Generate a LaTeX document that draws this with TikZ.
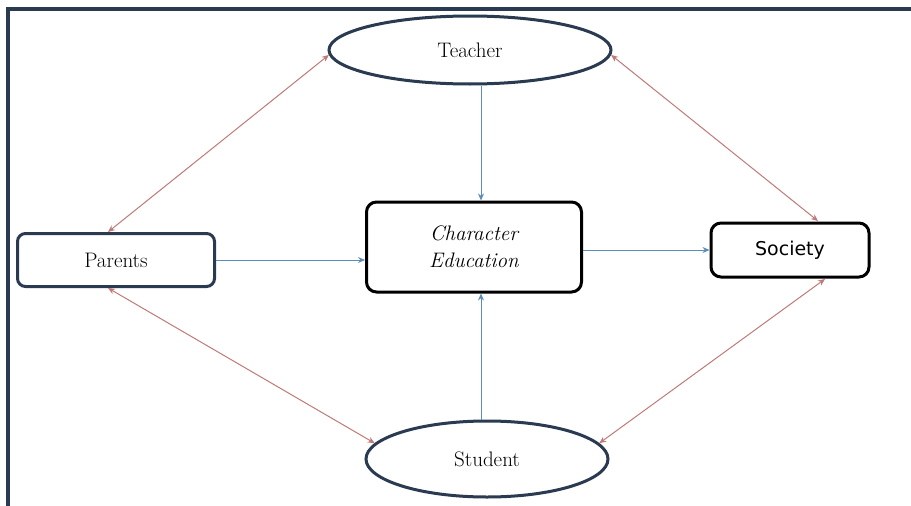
\documentclass[tikz,border=0pt]{standalone}
\usetikzlibrary{shapes.geometric,arrows.meta}
\usepackage{fontspec}
\newfontfamily\sansfam{DejaVu Sans}
\definecolor{navy}{HTML}{2A3A50}
\definecolor{bluearr}{HTML}{5B8DB8}
\definecolor{redarr}{HTML}{C07A78}
\begin{document}
\begin{tikzpicture}[x=1pt,y=-1pt,
  txt/.style={font=\fontsize{21}{25}\selectfont},
  ell/.style={ellipse,draw=navy,line width=3pt,fill=white,txt},
  rbox/.style={rounded corners=8pt,draw=navy,line width=3pt,fill=white,txt},
  bbox/.style={rounded corners=10pt,draw=black,line width=3pt,fill=white,txt},
  barr/.style={draw=bluearr,line width=1pt,-{Stealth[length=7pt,width=6pt]}},
  rarr/.style={draw=redarr,line width=1pt,{Stealth[length=7pt,width=6pt]}-{Stealth[length=7pt,width=6pt]}}]
\useasboundingbox (0,0) rectangle (911,506);
\fill[white] (0,0) rectangle (911,506);
\draw[navy,line width=4pt] (8,506) -- (8,9) -- (911,9);
\node[ell,minimum width=282pt,minimum height=68pt,inner sep=0pt] (teacher) at (470,50) {Teacher};
\node[rbox,minimum width=197pt,minimum height=53pt,inner sep=0pt] (parents) at (116,260) {Parents};
\node[bbox,minimum width=215pt,minimum height=90pt,inner sep=0pt,align=center,font=\fontsize{21}{27}\selectfont\itshape] (ce) at (474,247) {Character\\Education};
\node[bbox,minimum width=158pt,minimum height=54pt,inner sep=0pt,font=\sansfam\fontsize{19}{23}\selectfont] (society) at (790,250) {Society};
\node[ell,minimum width=242pt,minimum height=76pt,inner sep=0pt] (student) at (487,459) {Student};
\draw[barr] (teacher.south -| 481,0) -- (ce.north -| 481,0);
\draw[barr] (student.north -| 481,0) -- (ce.south -| 481,0);
\draw[barr] (parents.east) -- (parents.east -| ce.west);
\draw[barr] (ce.east |- society.west) -- (society.west);
\coordinate (pt) at (108,232);
\coordinate (pb) at (108,288);
\coordinate (st) at (818,221);
\coordinate (sb) at (825,279);
\draw[rarr] (pt) -- (teacher.182);
\draw[rarr] (teacher.-2) -- (st);
\draw[rarr] (pb) -- (student.172);
\draw[rarr] (student.8) -- (sb);
\end{tikzpicture}
\end{document}
